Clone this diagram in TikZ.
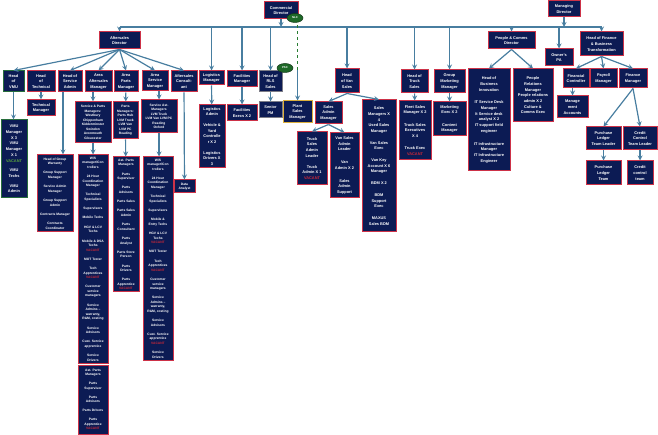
\documentclass[tikz,border=0pt]{standalone}
\usepackage{fontspec}
\setmainfont{Liberation Sans}
\usetikzlibrary{shapes.geometric}
\definecolor{navy}{RGB}{12,27,84}
\definecolor{boxred}{RGB}{205,50,72}
\definecolor{vmugreen}{RGB}{40,110,60}
\definecolor{rlsgrey}{RGB}{125,125,135}
\definecolor{plantgold}{RGB}{220,175,60}
\definecolor{linkblue}{RGB}{72,126,160}
\definecolor{plangreen}{RGB}{40,125,50}
\definecolor{taggreen}{RGB}{30,105,40}
\definecolor{tagdark}{RGB}{20,55,25}
\definecolor{vacred}{RGB}{205,40,55}
\definecolor{vmuvac}{RGB}{90,165,60}
\begin{document}
\begin{tikzpicture}[x=1pt, y=-1pt,
    unit/.style={draw=boxred, fill=navy, line width=1pt, text=white, align=center, inner sep=1pt, font=\fontsize{3.9}{5.7}\selectfont\bfseries},
    list/.style={unit, font=\fontsize{3.3}{4.5}\selectfont\bfseries},
    vmu/.style={draw=vmugreen},
    rls/.style={draw=rlsgrey},
    plant/.style={draw=plantgold},
    tag/.style={ellipse, draw=tagdark, fill=taggreen, line width=0.5pt, text=white, minimum width=16pt, minimum height=9pt, inner sep=0pt, font=\fontsize{2.8}{3}\selectfont\bfseries},
    link/.style={->, >=stealth, line width=1.2pt, draw=linkblue},
    trunk/.style={line width=1.2pt, draw=linkblue},
    planlink/.style={dashed, line width=1.2pt, draw=plangreen}
]
    \useasboundingbox (0,0) rectangle (658,435);

    % directors
    \node[unit, minimum width=34pt, minimum height=17pt] (comdir) at (281,10.5) {Commercial\\Director};
    \node[unit, minimum width=32pt, minimum height=16pt] (mandir) at (564,9) {Managing\\Director};
    \node[unit, minimum width=41pt, minimum height=17pt] (aftdir) at (119.5,40.5) {Aftersales\\Director};
    \node[unit, minimum width=47pt, minimum height=17pt] (pcdir) at (511.5,40.5) {People \& Comms\\Director};
    \node[unit, minimum width=28pt, minimum height=17pt] (opa) at (559,57.5) {Owner's\\PA};
    \node[unit, minimum width=43pt, minimum height=24pt] (finhead) at (601.5,44) {Head of Finance\\\& Business\\Transformation};

    % heads and managers
    \node[unit, vmu, minimum width=21pt, minimum height=21pt] (hvmu) at (13.5,81.5) {Head\\of\\VMU};
    \node[unit, minimum width=28pt, minimum height=21pt] (htech) at (41,81.5) {Head\\of\\Technical};
    \node[unit, minimum width=24pt, minimum height=21pt] (hsadmin) at (70,81.5) {Head of\\Service\\Admin};
    \node[unit, minimum width=27pt, minimum height=21pt] (areaas) at (98.5,81.5) {Area\\Aftersales\\Manager};
    \node[unit, minimum width=24pt, minimum height=21pt] (areaparts) at (126,81.5) {Area\\Parts\\Manager};
    \node[unit, minimum width=26pt, minimum height=20pt] (areaserv) at (155,81) {Area\\Service\\Manager};
    \node[unit, minimum width=26pt, minimum height=21pt] (ascons) at (184,81.5) {Aftersales\\Consult-\\ant};
    \node[unit, minimum width=25pt, minimum height=14pt] (logman) at (211.5,78) {Logistics\\Manager};
    \node[unit, minimum width=30pt, minimum height=16pt] (facman) at (242,79) {Facilities\\Manager};
    \node[unit, rls, minimum width=23pt, minimum height=21pt] (hrls) at (270.5,81.5) {Head of\\RLS\\Sales};
    \node[unit, minimum width=24pt, minimum height=24pt] (hvan) at (347,81) {Head\\of Van\\Sales};
    \node[unit, minimum width=27pt, minimum height=23pt] (htruck) at (414.5,81.5) {Head of\\Truck\\Sales};
    \node[unit, minimum width=31pt, minimum height=23pt] (gmm) at (449.5,81.5) {Group\\Marketing\\Manager};
    \node[unit, minimum width=42pt, minimum height=102pt] (hbi) at (489,120) {Head of\\Business\\Innovation\\[7pt]IT Service Desk\\Manager\\It Service desk\\analyst X 2\\IT support field\\engineer\\[7pt]IT infrastructure\\Manager\\IT Infrastructure\\Engineer};
    \node[unit, minimum width=40pt, minimum height=53pt] (prm) at (533,95.5) {People\\Relations\\Manager\\People relations\\admin X 2\\Culture \&\\Comms Exec};
    \node[unit, minimum width=26pt, minimum height=19pt] (fc) at (576,78.5) {Financial\\Controller};
    \node[unit, minimum width=27pt, minimum height=19pt] (payroll) at (603.5,78.5) {Payroll\\Manager};
    \node[unit, minimum width=28pt, minimum height=19pt] (finman) at (633,78.5) {Finance\\Manager};

    % teams
    \node[unit, minimum width=28pt, minimum height=16pt] (techman) at (41,108) {Technical\\Manager};
    \node[unit, vmu, minimum width=26pt, minimum height=78pt] (vmuteam) at (14,159) {VMU\\Manager\\X 3\\VMU\\Manager\\X 1\\\textcolor{vmuvac}{VACANT}\\[4pt]VMU\\Techs\\[4pt]VMU\\Admin};
    \node[list, minimum width=36pt, minimum height=77pt] (warranty) at (55,193.5) {Head of Group\\Warranty\\[4.8pt]Group Support\\Manager\\[4.8pt]Service Admin\\Manager\\[4.8pt]Group Support\\Admin\\[4.8pt]Contracts Manager\\[4.8pt]Contracts\\Coordinator};
    \node[list, minimum width=36pt, minimum height=41pt] (spman) at (93,122.5) {Service \& Parts\\Managers:\\Westbury\\Chippenham\\Kidderminster\\Swindon\\Avonmouth\\Gloucester};
    \node[list, minimum width=30pt, minimum height=208pt] (wsone) at (93,259) {W/S\\manager/Con\\trollers\\[4.8pt]24 Hour\\Coordination\\Manager\\[4.8pt]Technical\\Specialists\\[4.8pt]Supervisors\\[4.8pt]Mobile Techs\\[4.8pt]HGV \& LCV\\Techs\\[4.8pt]Mobile \& DSA\\Techs\\\textcolor{vacred}{VACANT}\\[4.8pt]MOT Tester\\[4.8pt]Tech\\Apprentices\\\textcolor{vacred}{VACANT}\\[4.8pt]Customer\\service\\managers\\[4.8pt]Service\\Admins --\\warranty,\\R\&M, costing\\[4.8pt]Service\\Advisors\\[4.8pt]Cust. Service\\apprentice\\[4.8pt]Service\\Drivers};
    \node[list, minimum width=30pt, minimum height=69pt] (astparts) at (93,399.5) {Ast. Parts\\Managers\\[4.5pt]Parts\\Supervisor\\[4.5pt]Parts\\Advisors\\[4.5pt]Parts Drivers\\[4.5pt]Parts\\Apprentice\\\textcolor{vacred}{VACANT}};
    \node[list, minimum width=25pt, minimum height=37pt] (partsmgrs) at (125.5,120.5) {Parts\\Managers:\\Parts Hub\\LVM Truck\\LVM Van\\LVM PC\\Reading};
    \node[list, minimum width=26pt, minimum height=135pt] (partsteam) at (126,224.5) {Ast. Parts\\Managers\\[4.8pt]Parts\\Supervisor\\[4.8pt]Parts\\Advisors\\[4.8pt]Parts Sales\\[4.8pt]Parts Sales\\Admin\\[4.8pt]Parts\\Consultant\\[4.8pt]Parts\\Analyst\\[4.8pt]Parts Store\\Person\\[4.8pt]Parts\\Drivers\\[4.8pt]Parts\\Apprentice\\\textcolor{vacred}{VACANT}};
    \node[list, minimum width=36pt, minimum height=33pt] (servast) at (159,116.5) {Service Ast.\\Managers\\LVM Truck\\LVM Van LVM PC\\Reading\\Oxford};
    \node[list, minimum width=30pt, minimum height=203pt] (wsthree) at (158,258.5) {W/S\\manager/Con\\trollers\\[4.8pt]24 Hour\\Coordination\\Manager\\[4.8pt]Technical\\Specialists\\[4.8pt]Supervisors\\[4.8pt]Mobile \&\\Entry Techs\\[4.8pt]HGV \& LCV\\Techs\\\textcolor{vacred}{VACANT}\\[4.8pt]MOT Tester\\[4.8pt]Tech\\Apprentices\\\textcolor{vacred}{VACANT}\\[4.8pt]Customer\\service\\managers\\[4.8pt]Service\\Admins --\\warranty,\\R\&M, costing\\[4.8pt]Service\\Advisors\\[4.8pt]Cust. Service\\apprentice\\\textcolor{vacred}{VACANT}\\[4.8pt]Service\\Drivers};
    \node[list, minimum width=21pt, minimum height=13pt] (dataan) at (184.5,186.5) {Data\\Analyst};
    \node[unit, minimum width=26pt, minimum height=63pt] (logteam) at (212,136.5) {Logistics\\Admin\\[5pt]Vehicle \&\\Yard\\Controlle\\r X 2\\[5pt]Logistics\\Drivers X\\3};
    \node[unit, minimum width=30pt, minimum height=16pt] (facexec) at (242,113) {Facilities\\Execs X 2};
    \node[unit, rls, minimum width=23pt, minimum height=16pt] (seniorpm) at (270.5,110) {Senior\\PM};
    \node[unit, plant, minimum width=29pt, minimum height=22pt] (psm) at (297.5,112) {Plant\\Sales\\Manager};
    \node[unit, minimum width=27pt, minimum height=22pt] (sadmin) at (328.5,113) {Sales\\Admin\\Manager};
    \node[unit, minimum width=34pt, minimum height=132pt] (salesmgrs) at (379,166) {Sales\\Managers X\\4\\Used Sales\\Manager\\[6pt]Van Sales\\Exec\\[6pt]Van Key\\Account X 6\\Manager\\[6pt]BDM X 2\\[6pt]BDM\\Support\\Exec\\[6pt]MAXUS\\Sales BDM};
    \node[unit, minimum width=30pt, minimum height=53pt] (truckadm) at (312,158.5) {Truck\\Sales\\Admin\\Leader\\[5pt]Truck\\Admin X 1\\\textcolor{vacred}{VACANT}};
    \node[unit, minimum width=29pt, minimum height=65pt] (vanadm) at (344.5,165.5) {Van Sales\\Admin\\Leader\\[7pt]Van\\Admin X 2\\[7pt]Sales\\Admin\\Support};
    \node[unit, minimum width=32pt, minimum height=59pt] (fleet) at (415,130.5) {Fleet Sales\\Manager X 2\\[6.5pt]Truck Sales\\Executives\\X 4\\[6.5pt]Truck Exec\\\textcolor{vacred}{VACANT}};
    \node[unit, minimum width=33pt, minimum height=34pt] (mkt) at (449.5,119) {Marketing\\Exec X 2\\[6.5pt]Content\\Manager};
    \node[unit, minimum width=31pt, minimum height=22pt] (mgmtacc) at (572.5,107) {Manage\\ment\\Accounts};
    \node[unit, minimum width=35pt, minimum height=23pt] (pltl) at (603.5,138.5) {Purchase\\Ledger\\Team Leader};
    \node[unit, minimum width=34pt, minimum height=23pt] (cctl) at (640,138.5) {Credit\\Control\\Team Leader};
    \node[unit, minimum width=35pt, minimum height=24pt] (plteam) at (603.5,173) {Purchase\\Ledger\\Team};
    \node[unit, minimum width=26pt, minimum height=24pt] (ccteam) at (640,173) {Credit\\control\\team};

    % top bar
    \coordinate (bar) at (0,27);
    \draw[link] (comdir) -- (comdir |- bar);
    \draw[link] (mandir) -- (mandir |- bar);
    \draw[trunk] (aftdir |- bar) -- (finhead |- bar);
    \foreach \n in {aftdir, logman, facman, hrls, hvan, htruck, gmm, pcdir, opa, finhead}
        \draw[link] (\n |- bar) -- (\n);
    \draw[planlink] (comdir.south -| psm) -- (hrls.north -| psm);
    \draw[link] (hrls.north -| psm) -- (psm);

    % fans
    \foreach \n in {hvmu, hsadmin, areaas, areaparts, areaserv, ascons}
        \draw[link] (aftdir.south) -- (\n.north);
    \foreach \n in {sadmin, salesmgrs}
        \draw[link] (hvan.south) -- (\n.north);
    \foreach \n in {truckadm, vanadm}
        \draw[link] (sadmin.south) -- (\n.north);
    \foreach \n in {hbi, prm}
        \draw[link] (pcdir.south) -- (\n.north);
    \foreach \n in {fc, payroll, finman}
        \draw[link] (finhead.south) -- (\n.north);
    \foreach \n in {pltl, cctl}
        \draw[link] (finman.south) -- (\n.north);

    % straight drops
    \draw[link] (htech) -- (techman);
    \draw[link] (hvmu) -- (hvmu |- vmuteam.north);
    \draw[link] ([xshift=-7pt]hsadmin.south) -- ([xshift=-7pt]hsadmin.south |- warranty.north);
    \draw[link] (areaas.south -| spman) -- (spman);
    \draw[link] (spman) -- (wsone);
    \draw[link] (areaparts) -- (partsmgrs);
    \draw[link] (partsmgrs) -- (partsteam);
    \draw[link] (areaserv.south -| servast) -- (servast);
    \draw[link] (servast) -- (servast |- wsthree.north);
    \draw[link] (ascons) -- (dataan);
    \draw[link] (logman) -- (logteam);
    \draw[link] (facman) -- (facexec);
    \draw[link] (hrls) -- (seniorpm);
    \draw[link] (htruck) -- (fleet);
    \draw[link] (gmm) -- (mkt);
    \draw[link] (fc.south -| mgmtacc) -- (mgmtacc);
    \draw[link] (pltl) -- (plteam);
    \draw[link] (cctl) -- (ccteam);

    % tags
    \node[tag] (nlc) at (295,18) {NLC};
    \node[tag] (psc) at (285,68) {PSC};
\end{tikzpicture}
\end{document}
